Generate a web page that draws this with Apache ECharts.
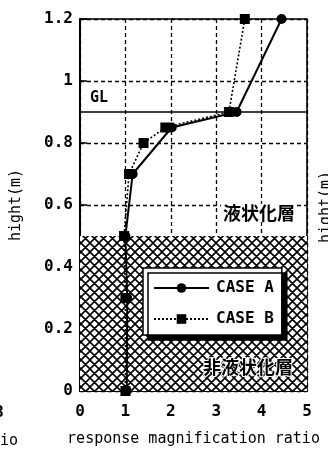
<!DOCTYPE html>
<html>
<head>
<meta charset="utf-8">
<script src="https://cdn.jsdelivr.net/npm/echarts@6/dist/echarts.min.js"></script>
<style>
html,body{margin:0;padding:0;background:#fff;}
#c{width:328px;height:453px;}
</style>
</head>
<body>
<div id="c"></div>
<script>
// ---- data ----
const heightsA = [1.2, 0.9, 0.85, 0.7, 0.5, 0.3, 0];
const caseA    = [4.44, 3.45, 2.02, 1.16, 1.0, 1.04, 1.03];
const heightsB = [1.2, 0.9, 0.85, 0.8, 0.7, 0.5, 0.3, 0];
const caseB    = [3.63, 3.28, 1.88, 1.4, 1.08, 0.97, 1.0, 1.0];
const seriesNames = ['CASE A', 'CASE B'];
const xTicks = [0, 1, 2, 3, 4, 5];
const yTicks = [0, 0.2, 0.4, 0.6, 0.8, 1, 1.2];
const glLevel = 0.9;
const liquefiedTop = 0.5;
const layerLabels = ['液状化層', '非液状化層'];
const xAxisTitle = 'response magnification ratio';
const yAxisTitle = 'hight(m)';

// hatch pattern
function makeHatch() {
  const s = 9;
  const cv = document.createElement('canvas');
  cv.width = s; cv.height = s;
  const ctx = cv.getContext('2d');
  ctx.fillStyle = '#fff';
  ctx.fillRect(0, 0, s, s);
  ctx.strokeStyle = '#000';
  ctx.lineWidth = 1.6;
  ctx.beginPath();
  for (const dx of [-s, 0, s]) {
    ctx.moveTo(dx, 0); ctx.lineTo(dx + s, s);
    ctx.moveTo(dx + s, 0); ctx.lineTo(dx, s);
  }
  ctx.stroke();
  return cv;
}

const mono = 'DejaVu Sans Mono';
const chart = echarts.init(document.getElementById('c'), null, {renderer: 'canvas'});

const pairs = (xs, ys) => xs.map((v, i) => [v, ys[i]]);

const option = {
  animation: false,
  backgroundColor: '#fff',
  grid: {left: 80, right: 21, top: 19, bottom: 62, show: true, borderColor: '#000', borderWidth: 1.6, backgroundColor: 'transparent'},
  xAxis: {
    type: 'value', min: xTicks[0], max: xTicks[xTicks.length - 1], interval: 1,
    name: xAxisTitle, nameLocation: 'middle', nameGap: 41,
    nameTextStyle: {fontFamily: mono, fontSize: 15, color: '#000'},
    axisLine: {show: true, lineStyle: {color: '#000', width: 2}},
    axisTick: {show: false},
    axisLabel: {fontFamily: mono, fontSize: 16, fontWeight: 'bold', color: '#000', margin: 13},
    splitLine: {show: true, lineStyle: {color: '#000', type: [4, 3], width: 1.3}}
  },
  yAxis: {
    type: 'value', min: yTicks[0], max: yTicks[yTicks.length - 1], interval: 0.2,
    name: yAxisTitle, nameLocation: 'middle', nameGap: 56, nameRotate: 90,
    nameTextStyle: {fontFamily: mono, fontSize: 15, color: '#000'},
    axisLine: {show: true, lineStyle: {color: '#000', width: 2}},
    axisTick: {show: true, inside: true, length: 7, lineStyle: {color: '#000', width: 1.5}},
    axisLabel: {fontFamily: mono, fontSize: 16, fontWeight: 'bold', color: '#000', margin: 7},
    splitLine: {show: true, lineStyle: {color: '#000', type: [4, 3], width: 1.3}}
  },
  legend: {
    data: seriesNames,
    orient: 'vertical',
    left: 143, top: 268,
    padding: [12, 8, 8, 10],
    itemGap: 15,
    itemWidth: 55, itemHeight: 12,
    backgroundColor: '#fff',
    borderColor: '#000', borderWidth: 1.5,
    shadowColor: '#000', shadowBlur: 0, shadowOffsetX: 5, shadowOffsetY: 5,
    textStyle: {fontFamily: mono, fontSize: 16, fontWeight: 'bold', color: '#000', lineHeight: 16, padding: [0, 0, 0, 2]},
    z: 10
  },
  series: [
    {
      name: seriesNames[0], type: 'line',
      data: pairs(caseA, heightsA),
      symbol: 'circle', symbolSize: 10,
      itemStyle: {color: '#000'},
      lineStyle: {color: '#000', width: 2},
      z: 5,
      markLine: {
        silent: true, symbol: 'none',
        lineStyle: {color: '#000', type: 'solid', width: 1.6},
        label: {show: true, position: 'insideStartTop', formatter: 'GL', fontFamily: mono, fontSize: 15, fontWeight: 'bold', color: '#000', distance: [10, 6]},
        data: [{yAxis: glLevel}]
      },
      markArea: {
        silent: true,
        itemStyle: {color: {image: makeHatch(), repeat: 'repeat'}, opacity: 1},
        data: [[{yAxis: 0, xAxis: 0}, {yAxis: liquefiedTop, xAxis: 5}]]
      }
    },
    {
      name: seriesNames[1], type: 'line',
      data: pairs(caseB, heightsB),
      symbol: 'rect', symbolSize: 10,
      itemStyle: {color: '#000'},
      lineStyle: {color: '#000', width: 1.6, type: [2, 2]},
      z: 4
    }
  ]
};
chart.setOption(option);

const pTop = chart.convertToPixel({gridIndex: 0}, [5, liquefiedTop]);
const pBot = chart.convertToPixel({gridIndex: 0}, [5, 0]);
const cjk = 'Noto Sans CJK JP';
chart.setOption({
  graphic: [
    {type: 'text', z: 20, x: pTop[0] - 10, y: pTop[1] - 23,
     style: {text: layerLabels[0], font: 'bold 18px "' + cjk + '"', fill: '#000', align: 'right', verticalAlign: 'middle', backgroundColor: '#fff', padding: [0, 2]}},
    {type: 'text', z: 20, x: pBot[0] - 14, y: pBot[1] - 24,
     style: {text: layerLabels[1], font: 'bold 18px "' + cjk + '"', fill: '#000', align: 'right', verticalAlign: 'middle', stroke: '#fff', lineWidth: 2}},
    // fragments of neighbouring panels at the edges
    {type: 'text', x: 4, y: 413, style: {text: '3', font: 'bold 16px "' + mono + '"', fill: '#000', align: 'right', verticalAlign: 'middle'}},
    {type: 'text', x: 18, y: 441, style: {text: 'ratio', font: '15px "' + mono + '"', fill: '#000', align: 'right', verticalAlign: 'middle'}},
    {type: 'text', x: 326, y: 207, rotation: Math.PI / 2, style: {text: yAxisTitle, font: '15px "' + mono + '"', fill: '#000', align: 'center', verticalAlign: 'middle'}}
  ]
});
</script>
</body>
</html>
